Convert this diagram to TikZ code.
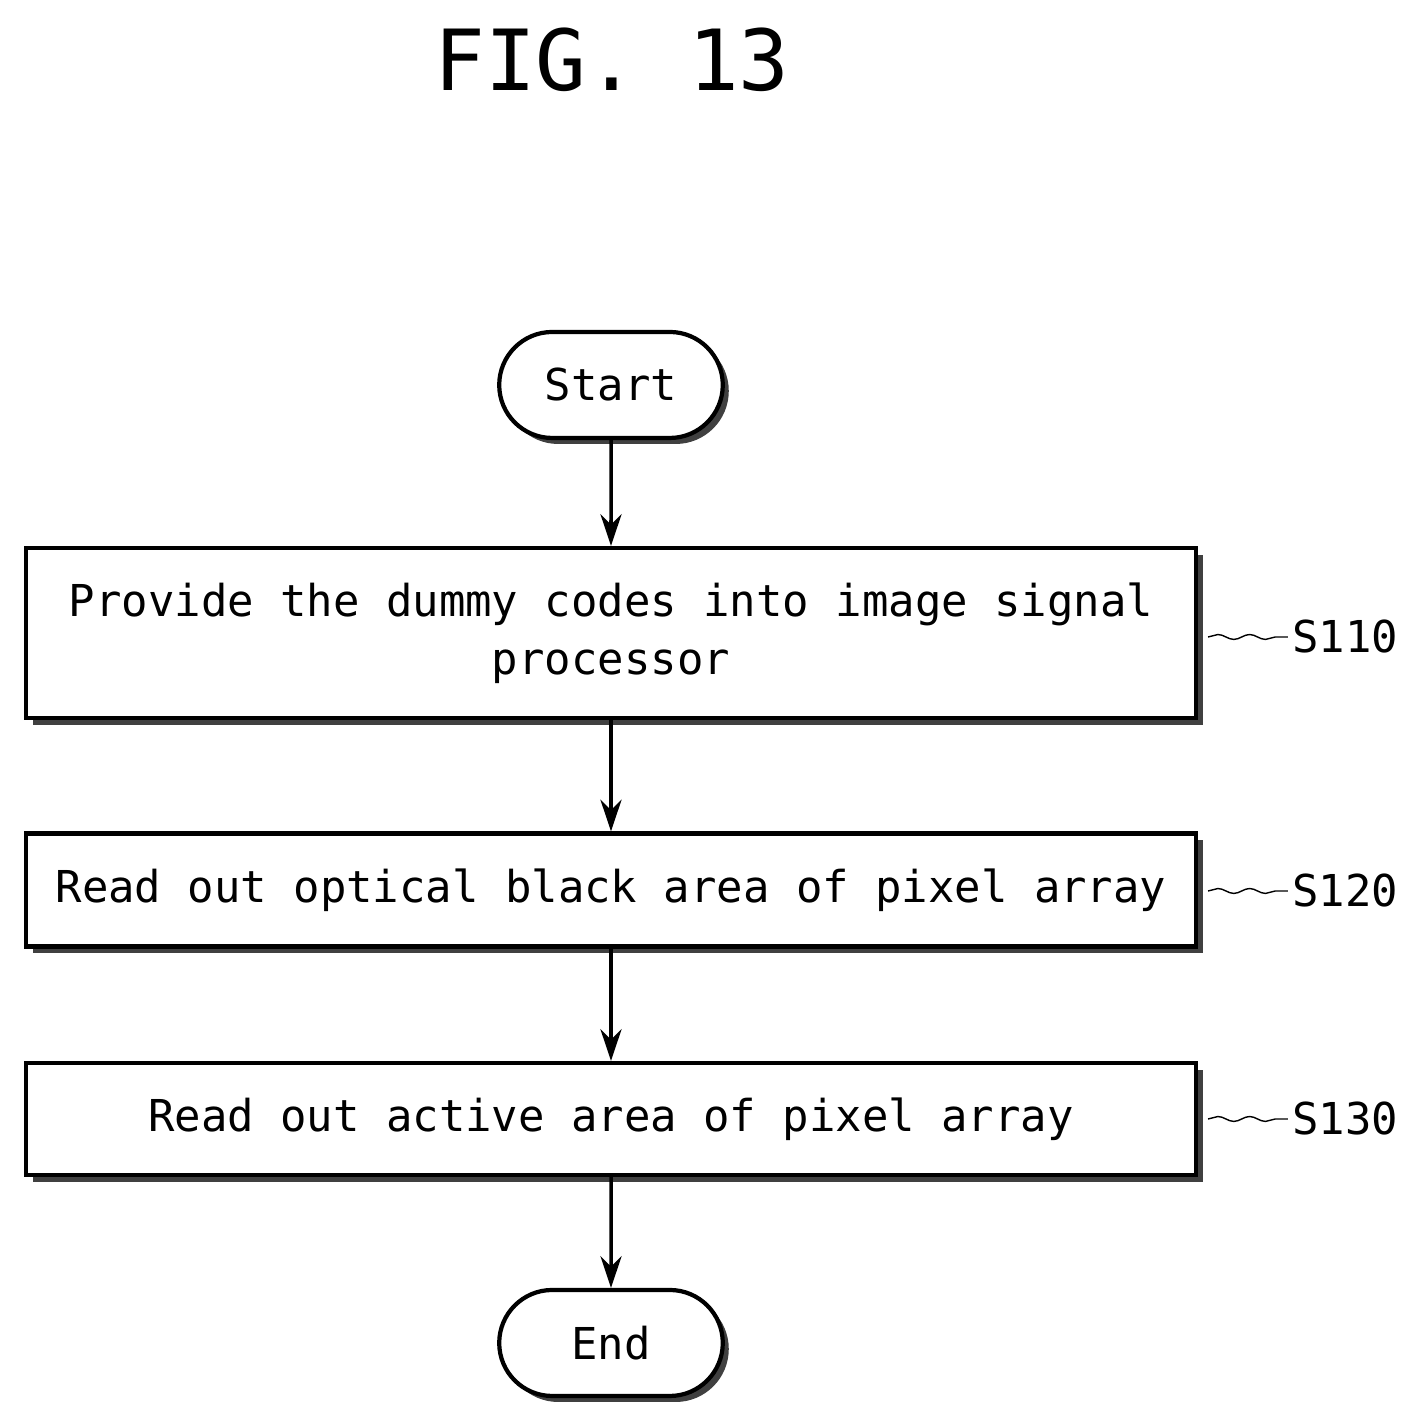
\documentclass[tikz,border=0pt]{standalone}
\usepackage{fontspec}
\setmainfont{DejaVu Sans Mono}
\usetikzlibrary{arrows.meta,shapes,shadows,decorations.pathmorphing,positioning}

\tikzset{
  stepbox/.style={draw, line width=1.2pt, minimum width=11.7cm, fill=white,
    align=center, font=\fontsize{12.5}{16.5}\selectfont,
    drop shadow={shadow xshift=0.07cm, shadow yshift=-0.07cm, fill=black!75, opacity=1}},
  term/.style={draw, line width=1.2pt, rounded rectangle, minimum width=2.47cm,
    minimum height=1.06cm, fill=white, font=\fontsize{12.5}{15}\selectfont,
    drop shadow={shadow xshift=0.06cm, shadow yshift=-0.06cm, fill=black!75, opacity=1}},
  tag/.style={font=\fontsize{12.5}{15}\selectfont, inner sep=1pt},
  wave/.style={decorate, decoration={snake, amplitude=0.7pt, segment length=9pt}},
  flow/.style={-{Stealth[length=9pt,width=6pt]}, line width=1pt}
}

\begin{document}
\begin{tikzpicture}
\useasboundingbox (0,0) rectangle (14.25,14.24);

\node[font=\fontsize{24}{30}\selectfont] (title) at (6.12,13.64) {FIG. 13};

\node[term, text width=1.9cm, align=center] (start) at (6.11,10.39) {Start};
\node[stepbox, minimum height=1.7cm] (s110) at (6.11,7.91)
  {Provide the dummy codes into image signal\\processor};
\node[stepbox, minimum height=1.13cm] (s120) at (6.11,5.34)
  {Read out optical black area of pixel array};
\node[stepbox, minimum height=1.12cm] (s130) at (6.11,3.05)
  {Read out active area of pixel array};
\node[term, text width=1.9cm, align=center] (end) at (6.11,0.81) {End};

% step labels
\node[tag] (l110) at (13.45,7.87) {S110};
\node[tag] (l120) at (13.45,5.33) {S120};
\node[tag] (l130) at (13.45,3.05) {S130};

\draw[wave] ([xshift=0.1cm]s110.east |- l110.west) -- (l110.west);
\draw[wave] ([xshift=0.1cm]s120.east |- l120.west) -- (l120.west);
\draw[wave] ([xshift=0.1cm]s130.east |- l130.west) -- (l130.west);

\draw[flow] (start) -- (s110);
\draw[flow] (s110) -- (s120);
\draw[flow] (s120) -- (s130);
\draw[flow] (s130) -- (end);

\end{tikzpicture}
\end{document}
